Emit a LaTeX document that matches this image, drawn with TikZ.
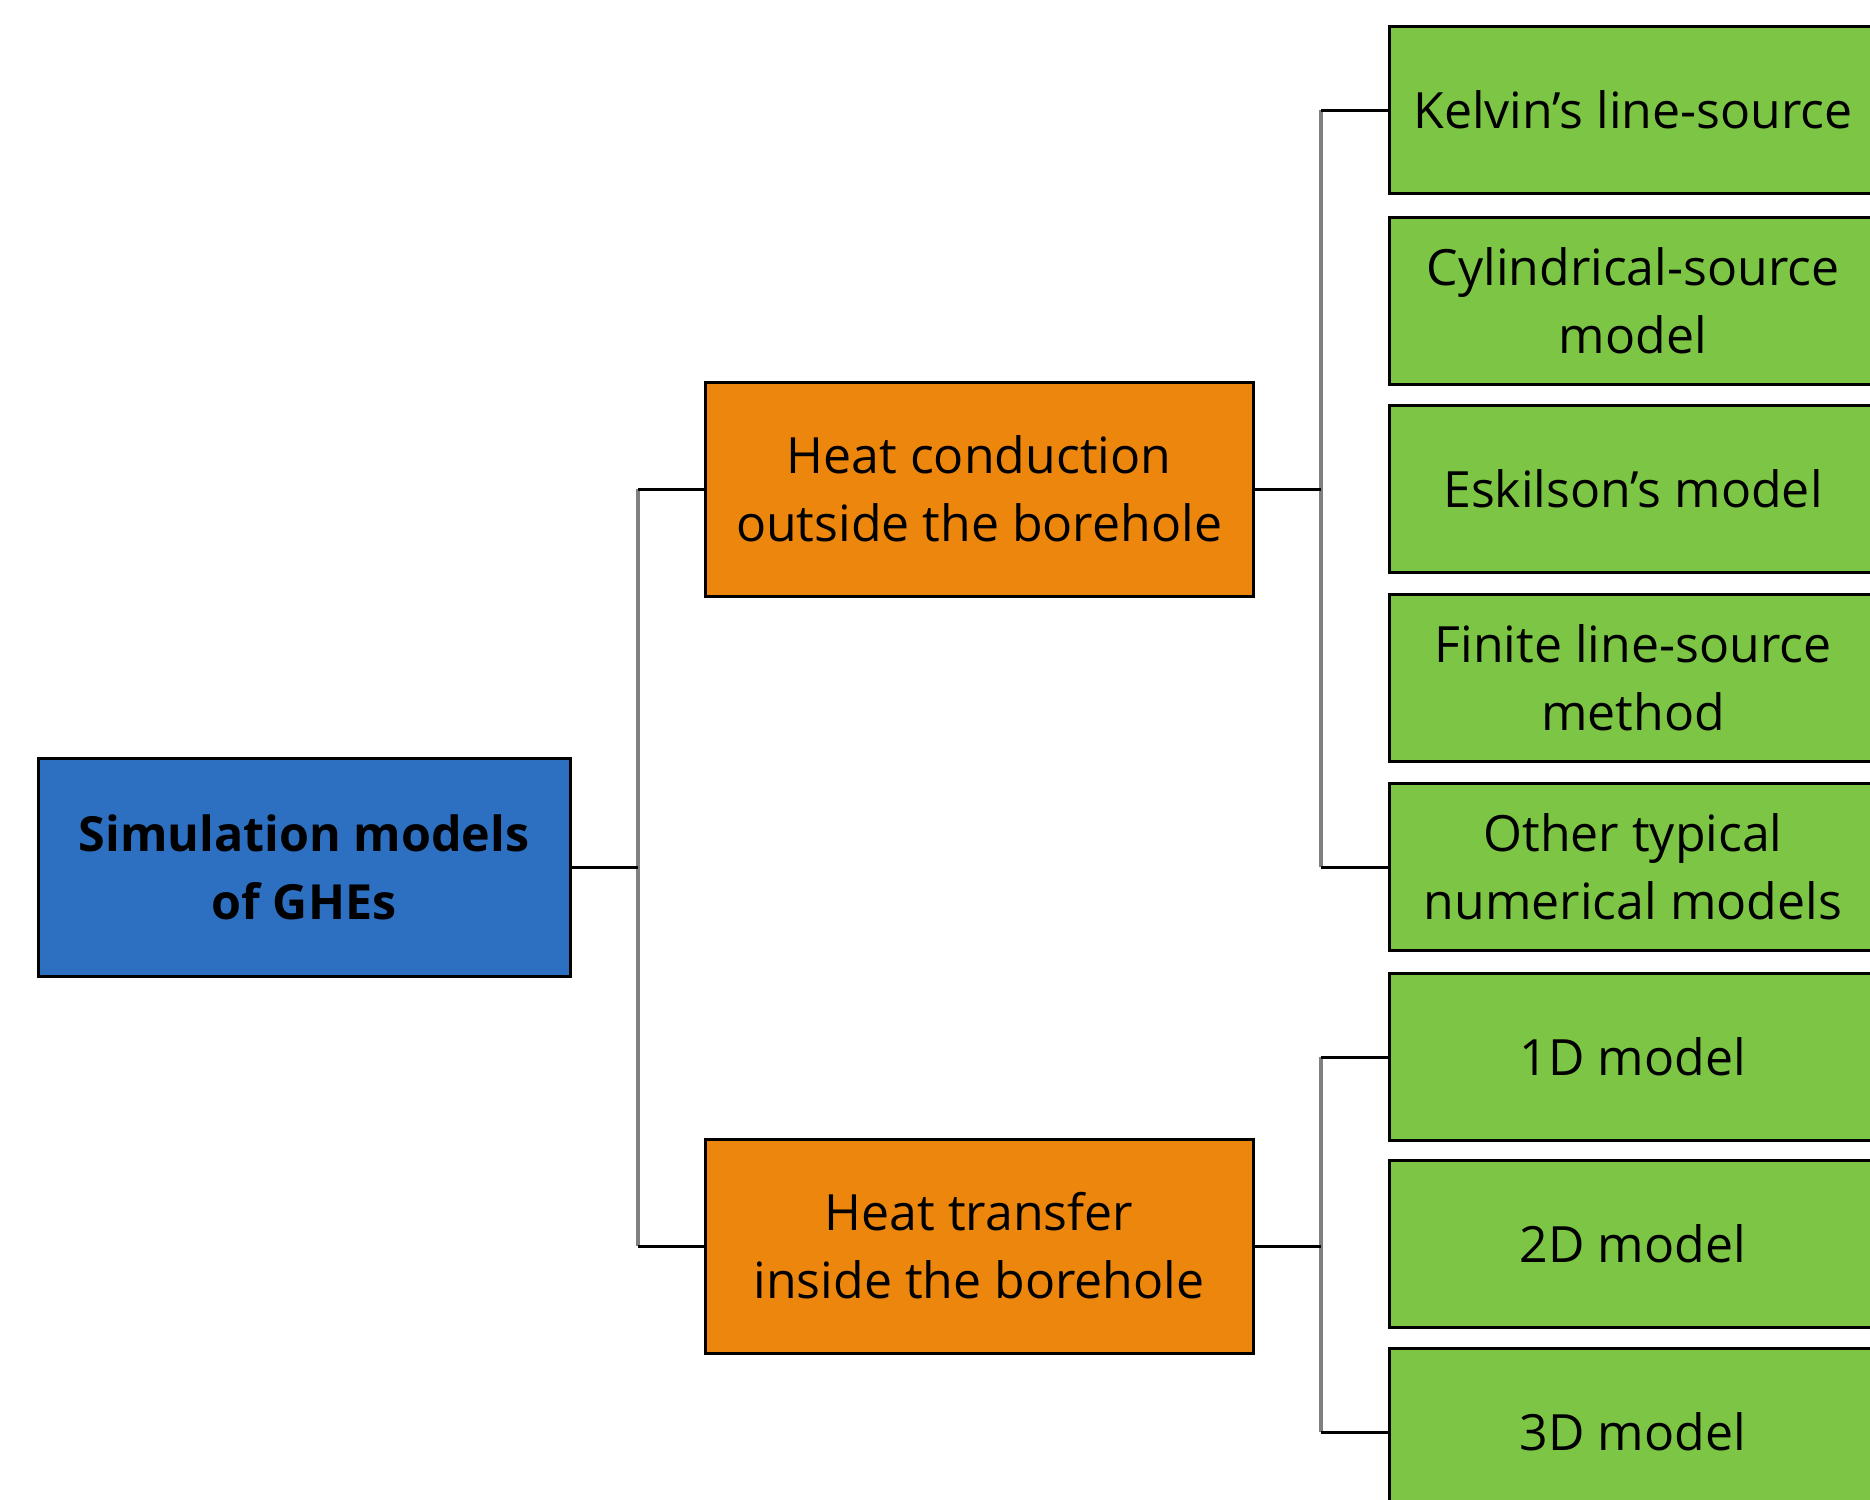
\documentclass[tikz,border=0pt]{standalone}
\usepackage{fontspec}
\setmainfont{Open Sans}
\definecolor{bluebox}{HTML}{2D6FC0}
\definecolor{orangebox}{HTML}{EC860D}
\definecolor{greenbox}{HTML}{7DC544}
\definecolor{trunkgrey}{HTML}{808080}
\begin{document}
\begin{tikzpicture}[x=0.5pt,y=-0.5pt,
  box/.style={draw=black, line width=1.5pt, align=center, inner sep=0pt,
    font=\fontsize{25}{34}\selectfont, text=black},
  rootbox/.style={box, fill=bluebox, minimum width=266pt, minimum height=109pt,
    font=\fontsize{24.2}{34}\selectfont\bfseries},
  midbox/.style={box, fill=orangebox, minimum width=274pt, minimum height=107pt},
  leafbox/.style={box, fill=greenbox, minimum width=244pt, minimum height=83.5pt},
  bline/.style={draw=black, line width=1.5pt},
  gline/.style={draw=trunkgrey, line width=2pt}]
\useasboundingbox (0,0) rectangle (1870,1500);
\clip (0,0) rectangle (1870,1500);
\node[rootbox] (root) at (304,867) {Simulation models\\of GHEs};
\node[midbox] (hc) at (979,489) {Heat conduction\\outside the borehole};
\node[midbox] (ht) at (979,1246) {Heat transfer\\inside the borehole};
\node[leafbox] (l1) at (1633,110) {Kelvin’s line-source};
\node[leafbox] (l2) at (1633,301) {Cylindrical-source\\model};
\node[leafbox] (l3) at (1633,489) {Eskilson’s model};
\node[leafbox] (l4) at (1633,678) {Finite line-source\\method};
\node[leafbox] (l5) at (1633,867) {Other typical\\numerical models};
\node[leafbox] (l6) at (1633,1057) {1D model};
\node[leafbox] (l7) at (1633,1244) {2D model};
\node[leafbox] (l8) at (1633,1432) {3D model};
\coordinate (t1) at (638,0);
\coordinate (t2) at (1321,0);
% root to middle
\draw[gline] (t1 |- hc.west) -- (t1 |- ht.west);
\draw[bline] (root.east) -- (root.east -| t1);
\draw[bline] (t1 |- hc.west) -- (hc.west);
\draw[bline] (t1 |- ht.west) -- (ht.west);
% conduction to leaves
\draw[gline] (t2 |- l1.west) -- (t2 |- l5.west);
\draw[bline] (hc.east) -- (hc.east -| t2);
\foreach \n in {l1,l5} \draw[bline] (t2 |- \n.west) -- (\n.west);
% transfer to leaves
\draw[gline] (t2 |- l6.west) -- (t2 |- l8.west);
\draw[bline] (ht.east) -- (ht.east -| t2);
\foreach \n in {l6,l8} \draw[bline] (t2 |- \n.west) -- (\n.west);
\end{tikzpicture}
\end{document}
